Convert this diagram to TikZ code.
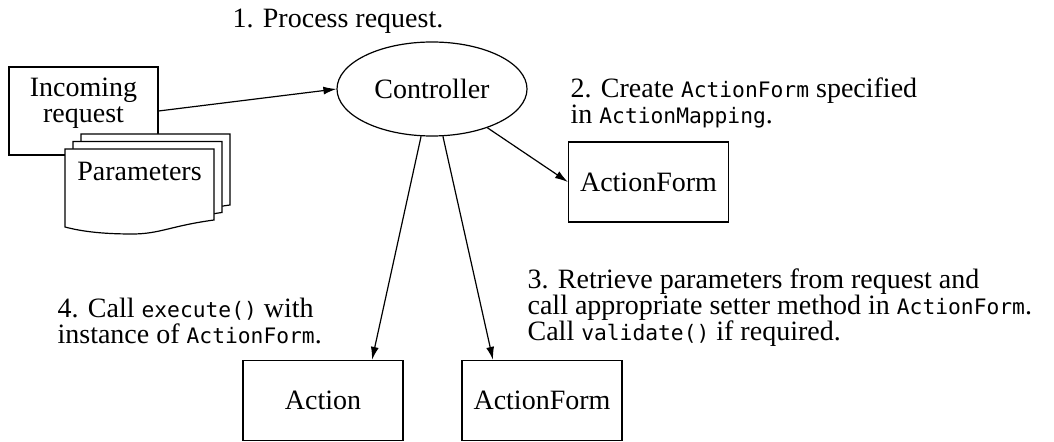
\documentclass[tikz,border=0pt]{standalone}
\usepackage{fontspec}
\setmainfont{Liberation Serif}
\setmonofont[Scale=0.76]{DejaVu Sans Mono}
\usetikzlibrary{shapes.geometric,arrows.meta}

\tikzset{
  box/.style={draw,minimum width=80pt,minimum height=40pt,inner sep=0pt,align=center},
  note/.style={anchor=north west,inner sep=0pt,align=left}
}

\begin{document}
\begin{tikzpicture}[x=0.5pt,y=-0.5pt,line width=0.6pt,
    >={Latex[length=6.5pt,width=4pt]},
    font=\fontsize{14}{13}\selectfont]
  \useasboundingbox (0,0) rectangle (1054,442);

  \node[box,minimum width=74.5pt,minimum height=44pt,text depth=10.5pt] (incoming) at (83.5,111) {Incoming\\request};
  % the stack of parameter sheets
  \foreach \dx/\dy in {16/-15,8/-7.5,0/0}
  {
    \draw[fill=white,shift={(\dx,\dy)}] (65,149) -- (214,149) -- (214,220)
      .. controls (170,226) and (160,234) .. (132,234)
      .. controls (100,234) and (80,231) .. (65,227) -- cycle;
  }
  \node (params) at (139.5,171) {Parameters};

  \node[ellipse,draw,minimum width=95pt,minimum height=47pt,inner sep=0pt] (ctrl) at (432,89) {Controller};
  \node[box] (form1) at (648.5,182) {ActionForm};
  \node[box] (action) at (323,400.5) {Action};
  \node[box] (form2) at (542,400.5) {ActionForm};

  \draw[->] (incoming.east) -- (ctrl.west);
  \draw[->] (ctrl.-35) -- (form1.west);
  \draw[->] (ctrl.-103) -- ([xshift=24.5pt]action.north);
  \draw[->] (ctrl.-77) -- ([xshift=-24.5pt]form2.north);

  \node[note] (step1) at (232,8) {1. Process request.};
  \node[note] (step2) at (570,77) {2. Create \texttt{ActionForm} specified\\in \texttt{ActionMapping}.};
  \node[note] (step3) at (527,268) {3. Retrieve parameters from request and\\call appropriate setter method in \texttt{ActionForm}.\\Call \texttt{validate()} if required.};
  \node[note] (step4) at (57,297) {4. Call \texttt{execute()} with\\instance of \texttt{ActionForm}.};
\end{tikzpicture}
\end{document}
